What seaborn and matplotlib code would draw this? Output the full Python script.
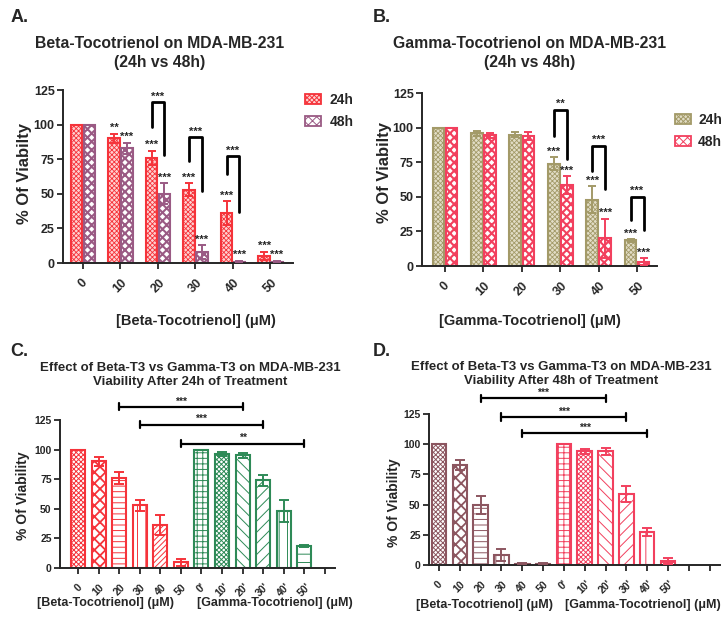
import numpy as np
import pandas as pd
import seaborn as sns
import matplotlib.pyplot as plt
from matplotlib.patches import Patch

conc = ['0', '10', '20', '30', '40', '50']
conc_prime = ["0'", "10'", "20'", "30'", "40'", "50'"]

# panel A / C / D  (beta-tocotrienol)
beta_24 = [100, 90, 76, 53, 36, 5]
beta_24_err = [0, 3.5, 5, 4.5, 8.5, 3]
beta_48 = [100, 83, 50, 8, 1, 1]
beta_48_err = [0, 4, 7.5, 5, 0.5, 0.5]
# panel B / C  (gamma-tocotrienol)
gamma_24 = [100, 96, 95, 74, 48, 18.5]
gamma_24_err = [0, 1.8, 1.8, 4.5, 9.5, 0.8]
gamma_48 = [100, 94.5, 94, 58.5, 20, 3]
gamma_48_err = [0, 1.8, 3, 6.5, 14, 2.5]
# panel D shows a different 40' value for gamma 48h
gamma_48_d = [100, 94, 94, 58.5, 27.5, 3]
gamma_48_d_err = [0, 2, 3, 6.5, 3.5, 2.5]

stars_a_24 = ['', '**', '***', '***', '***', '***']
stars_a_48 = ['', '***', '***', '***', '***', '***']
stars_b_24 = ['', '', '', '***', '***', '***']
stars_b_48 = ['', '', '', '***', '***', '***']

# (group, top, left leg end, right leg end, label)
brackets_a = [(2, 116, 98, 78, '***'), (3, 91, 74, 52, '***'), (4, 77, 64, 37, '***')]
brackets_b = [(3, 113, 94, 77, '**'), (4, 87, 69, 56, '***'), (5, 50, 33, 26, '***')]
# (from bar, to bar, height, label)
comps_c = [(2, 8, 136, '***'), (3, 9, 121, '***'), (5, 11, 105, '**')]
comps_d = [(2, 8, 138, '***'), (3, 9, 122.5, '***'), (4, 10, 109, '***')]

hatch_c = ['xxxxxxx', 'xxx', '---', '||', '//////', '//', '+++', 'xxxxxxx', '\\\\\\', '///', '||', '--']

RED = '#F5333A'
MAUVE = '#9A5A84'
OLIVE = '#A39A68'
PINK = '#F2405E'
GREEN = '#2E8A57'
BROWN = '#8C5660'

sns.set_style('ticks')
plt.rcParams['font.family'] = ['Liberation Sans', 'DejaVu Sans']
plt.rcParams['font.weight'] = 'bold'
plt.rcParams['axes.labelweight'] = 'bold'
plt.rcParams['hatch.linewidth'] = 0.7

fig = plt.figure(figsize=(7.25, 6.23), dpi=100)


def set_hlw(patch, lw):
    if hasattr(patch, 'set_hatch_linewidth'):
        patch.set_hatch_linewidth(lw)


def style_axis(ax, xlim, nticks, labels, fs, ylab, ylab_pos, ylab_fs):
    ax.set_ylim(0, 125)
    ax.set_xlim(*xlim)
    ax.set_yticks([0, 25, 50, 75, 100, 125])
    ax.set_xticks(range(nticks))
    ax.set_xticklabels(labels + [''] * (nticks - len(labels)), rotation=45, fontsize=fs,
                       ha='center', va='top')
    ax.tick_params(axis='both', width=1.3, length=4, labelsize=fs, pad=2)
    ax.tick_params(axis='x', pad=6)
    for s in ['left', 'bottom']:
        ax.spines[s].set_linewidth(1.4)
    sns.despine(ax=ax)
    ax.set_xlabel('')
    ax.set_ylabel(ylab, fontsize=ylab_fs)
    ax.yaxis.set_label_coords(*ylab_pos)


def add_errs(ax, bars, vals, errs, color, cap):
    for bar, v, e in zip(bars, vals, errs):
        if e <= 0:
            continue
        x = bar.get_x() + bar.get_width() / 2
        ax.errorbar(x, v, yerr=e, color=color, capsize=cap, elinewidth=1.4, capthick=1.4, zorder=5)


def paired_panel(rect, v24, e24, v48, e48, c24, h24, f24, c48, h48, f48, s24, s48, brackets):
    ax = fig.add_axes(rect)
    df = pd.DataFrame({'conc': conc * 2, 'viab': v24 + v48,
                       'time': ['24h'] * 6 + ['48h'] * 6})
    sns.barplot(data=df, x='conc', y='viab', hue='time', hue_order=['24h', '48h'], order=conc,
                width=0.68, gap=0.1, errorbar=None, legend=False, ax=ax)
    specs = [(c24, h24, f24, v24, e24, s24, 0.6), (c48, h48, f48, v48, e48, s48, 1.5)]
    centers = []
    for cont, (col, hat, fc, vals, errs, stars, hlw) in zip(ax.containers, specs):
        xs = []
        for bar in cont:
            bar.set_facecolor(fc)
            bar.set_edgecolor(col)
            bar.set_hatch(hat)
            set_hlw(bar, hlw)
            bar.set_linewidth(1.5)
            xs.append(bar.get_x() + bar.get_width() / 2)
        centers.append(xs)
        add_errs(ax, cont, vals, errs, col, 3)
        for x, v, e, st in zip(xs, vals, errs, stars):
            if st:
                ax.text(x, v + e + 0.5, st, ha='center', va='bottom', fontsize=8)
    for g, top, l_end, r_end, lab in brackets:
        xl, xr = centers[0][g], centers[1][g]
        ax.plot([xl, xl, xr, xr], [l_end, top, top, r_end], color='black', lw=2, clip_on=False)
        ax.text((xl + xr) / 2, top + 0.5, lab, ha='center', va='bottom', fontsize=8)
    return ax


def combo_panel(rect, vb, eb, vg, eg, cb, cg, comps, width, nticks):
    ax = fig.add_axes(rect)
    df = pd.DataFrame({'conc': conc + conc_prime, 'viab': vb + vg})
    sns.barplot(data=df, x='conc', y='viab', order=conc + conc_prime, color='white',
                width=width, errorbar=None, ax=ax)
    for i, bar in enumerate(ax.containers[0]):
        col = cb if i < 6 else cg
        bar.set_facecolor('white')
        bar.set_edgecolor(col)
        bar.set_hatch(hatch_c[i])
        set_hlw(bar, 1.3 if hatch_c[i] == 'xxx' else 0.7)
        bar.set_linewidth(1.5)
    add_errs(ax, list(ax.containers[0])[:6], vb, eb, cb, 3.5)
    add_errs(ax, list(ax.containers[0])[6:], vg, eg, cg, 3.5)
    for a, b, y, lab in comps:
        ax.plot([a, b], [y, y], color='black', lw=1.6, clip_on=False)
        for xe in (a, b):
            ax.plot([xe, xe], [y - 3, y + 3], color='black', lw=1.6, clip_on=False)
        ax.text((a + b) / 2, y + 0.5, lab, ha='center', va='bottom', fontsize=7.5)
    return ax


def legend_handles(c24, h24, f24, c48, h48, f48):
    p1 = Patch(facecolor=f24, edgecolor=c24, hatch=h24, lw=1.3, label='24h')
    p2 = Patch(facecolor=f48, edgecolor=c48, hatch=h48, lw=1.3, label='48h')
    set_hlw(p1, 0.6)
    set_hlw(p2, 1.5)
    return [p1, p2]


# ---- A ----
axA = paired_panel([0.0869, 0.5778, 0.3172, 0.2777], beta_24, beta_24_err, beta_48, beta_48_err,
                   RED, 'xxxxxxx', '#FFD0D0', MAUVE, 'xxxx', 'white',
                   stars_a_24, stars_a_48, brackets_a)
style_axis(axA, (-0.53, 5.6), 6, conc, 9, '% Of Viabilty', (-0.135, 0.52), 12)
axA.legend(handles=legend_handles(RED, 'xxxxxxx', '#FFD0D0', MAUVE, 'xxxx', 'white'),
           loc='upper left', bbox_to_anchor=(292 / 725, 1 - 80 / 623), bbox_transform=fig.transFigure,
           frameon=False, fontsize=10, handlelength=1.2, handleheight=0.7, handletextpad=0.6,
           labelspacing=0.6)

# ---- B ----
axB = paired_panel([0.5821, 0.5730, 0.3241, 0.2777], gamma_24, gamma_24_err, gamma_48, gamma_48_err,
                   OLIVE, 'xxxxxxx', '#E2DDC6', PINK, 'xxxx', 'white',
                   stars_b_24, stars_b_48, brackets_b)
style_axis(axB, (-0.6, 5.52), 6, conc, 9, '% Of Viabilty', (-0.128, 0.54), 12)
axB.legend(handles=legend_handles(OLIVE, 'xxxxxxx', '#E2DDC6', PINK, 'xxxx', 'white'),
           loc='upper left', bbox_to_anchor=(662 / 725, 1 - 100 / 623), bbox_transform=fig.transFigure,
           frameon=False, fontsize=10, handlelength=1.2, handleheight=0.7, handletextpad=0.5,
           labelspacing=0.6)

# ---- C ----
axC = combo_panel([0.0828, 0.0883, 0.3793, 0.2376], beta_24, beta_24_err, gamma_24, gamma_24_err,
                  RED, GREEN, comps_c, 0.68, 13)
style_axis(axC, (-0.88, 12.5), 13, conc + conc_prime, 7.5, '% Of Viability', (-0.109, 0.49), 10)

# ---- D ----
axD = combo_panel([0.5917, 0.0931, 0.4014, 0.2424], beta_48, beta_48_err, gamma_48_d, gamma_48_d_err,
                  BROWN, PINK, comps_d, 0.7, 14)
style_axis(axD, (-0.48, 13.5), 14, conc + conc_prime, 7.5, '% Of Viability', (-0.095, 0.41), 10)

# titles, panel letters, x labels
fig.text(0.014, 1 - 18 / 623, 'A.', fontsize=13, va='center')
fig.text(0.514, 1 - 18 / 623, 'B.', fontsize=13, va='center')
fig.text(0.014, 1 - 352 / 623, 'C.', fontsize=13, va='center')
fig.text(0.514, 1 - 352 / 623, 'D.', fontsize=13, va='center')

fig.text(160 / 725, 1 - 53 / 623, 'Beta-Tocotrienol on MDA-MB-231\n(24h vs 48h)', fontsize=11.3,
         ha='center', va='center', linespacing=1.25)
fig.text(530 / 725, 1 - 53 / 623, 'Gamma-Tocotrienol on MDA-MB-231\n(24h vs 48h)', fontsize=11.3,
         ha='center', va='center', linespacing=1.25)
fig.text(190 / 725, 1 - 375 / 623, 'Effect of Beta-T3 vs Gamma-T3 on MDA-MB-231\nViability After 24h of Treatment',
         fontsize=9.5, ha='center', va='center', linespacing=1.3)
fig.text(561 / 725, 1 - 374 / 623, 'Effect of Beta-T3 vs Gamma-T3 on MDA-MB-231\nViability After 48h of Treatment',
         fontsize=9.5, ha='center', va='center', linespacing=1.3)

fig.text(196 / 725, 1 - 321 / 623, '[Beta-Tocotrienol] (\u03bcM)', fontsize=10.5, ha='center', va='center')
fig.text(530 / 725, 1 - 321 / 623, '[Gamma-Tocotrienol] (\u03bcM)', fontsize=10.5, ha='center', va='center')
fig.text(105 / 725, 1 - 603 / 623, '[Beta-Tocotrienol] (\u03bcM)', fontsize=9, ha='center', va='center')
fig.text(275 / 725, 1 - 603 / 623, '[Gamma-Tocotrienol] (\u03bcM)', fontsize=9, ha='center', va='center')
fig.text(485 / 725, 1 - 605 / 623, '[Beta-Tocotrienol] (\u03bcM)', fontsize=9, ha='center', va='center')
fig.text(643 / 725, 1 - 605 / 623, '[Gamma-Tocotrienol] (\u03bcM)', fontsize=9, ha='center', va='center')

fig.savefig('out.png', dpi=100)
